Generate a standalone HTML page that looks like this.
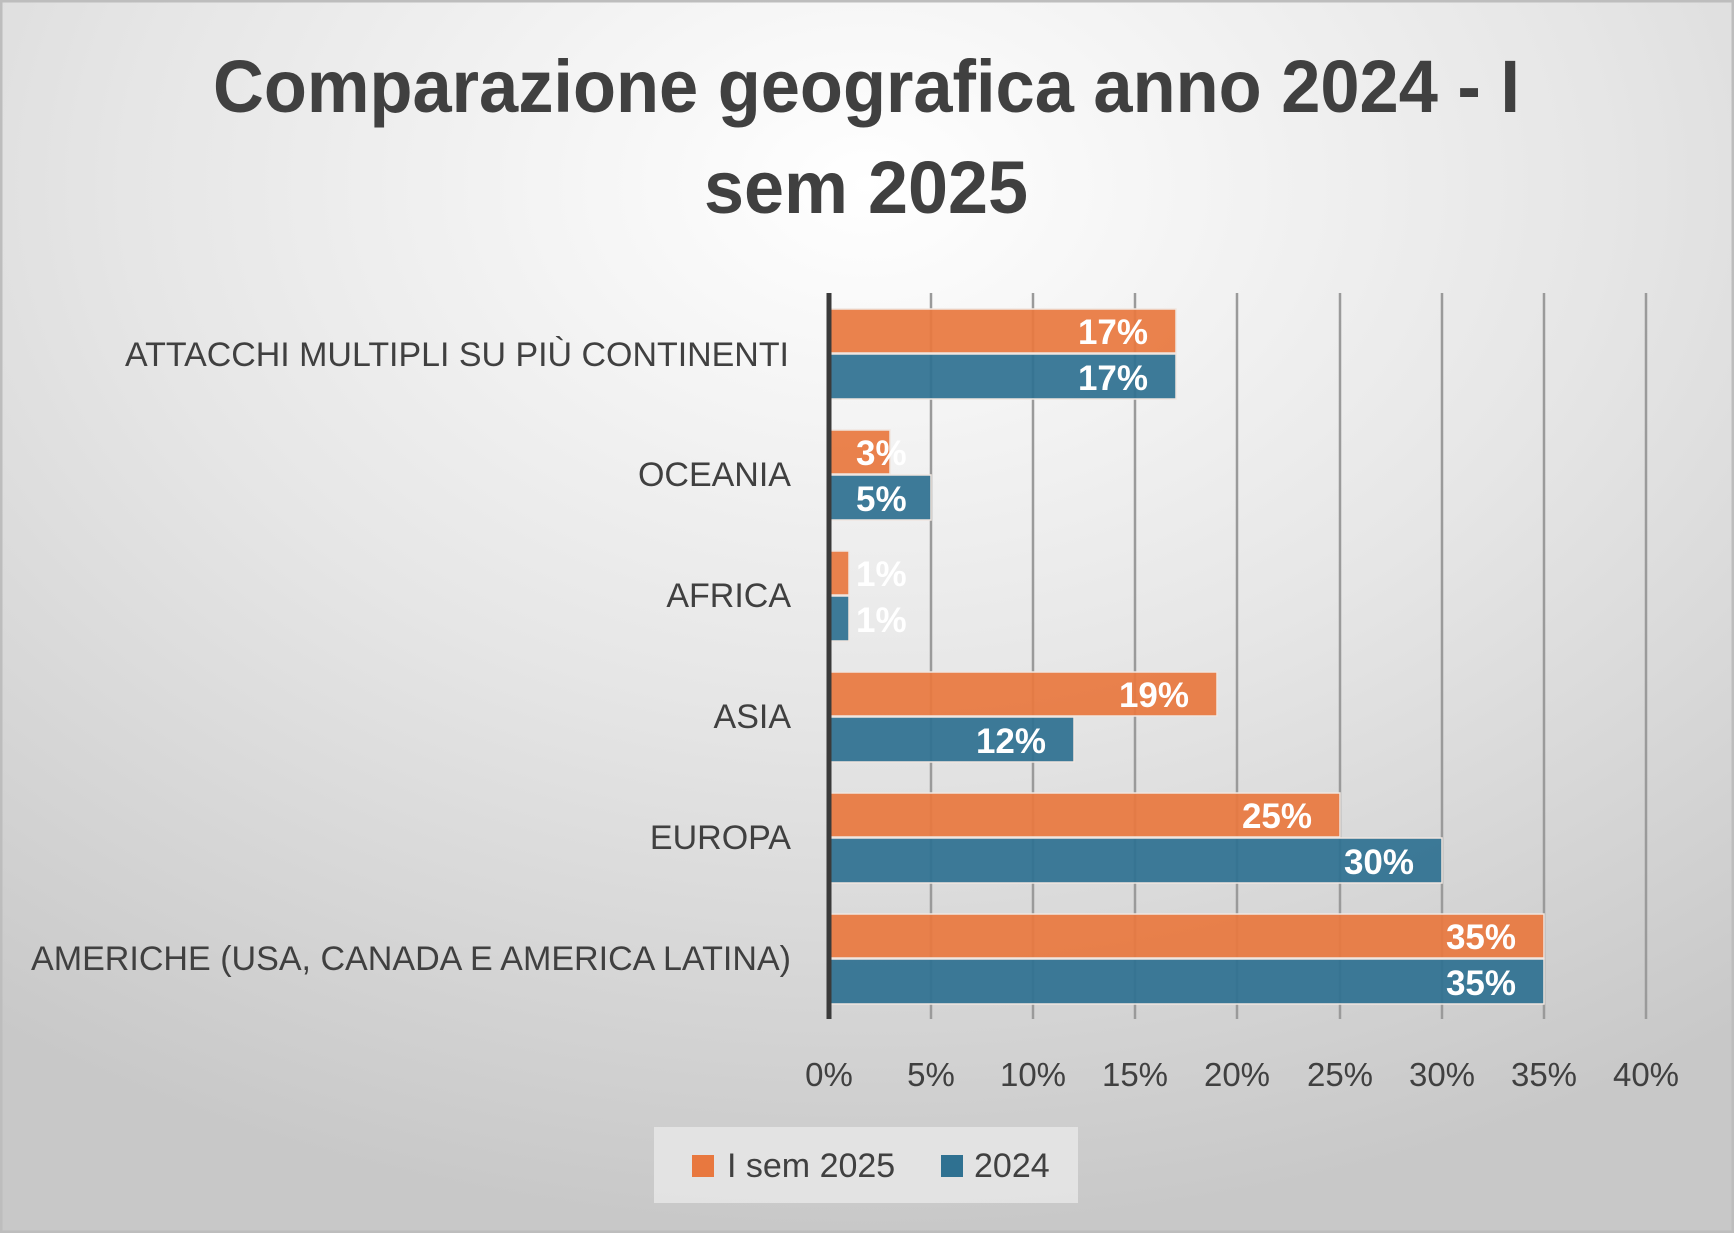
<!DOCTYPE html>
<html><head><meta charset="utf-8"><style>
html,body{margin:0;padding:0;}
body{width:1734px;height:1233px;overflow:hidden;}
svg{display:block;}
text{font-family:"Liberation Sans",sans-serif;}
</style></head><body>
<svg width="1734" height="1233" viewBox="0 0 1734 1233" xmlns="http://www.w3.org/2000/svg">
<defs>
<radialGradient id="bg" cx="50%" cy="15%" r="85%" fx="50%" fy="15%">
<stop offset="0" stop-color="#ffffff"/>
<stop offset="0.5" stop-color="#e6e6e6"/>
<stop offset="1" stop-color="#c8c8c8"/>
</radialGradient>
</defs>
<rect x="0" y="0" width="1734" height="1233" fill="url(#bg)"/>
<rect x="1" y="1" width="1732" height="1231" fill="none" stroke="#bdbdbd" stroke-width="3"/>
<g fill="#404040" font-weight="bold" font-size="74">
<text x="213" y="112" textLength="1307" lengthAdjust="spacingAndGlyphs">Comparazione geografica anno 2024 - I</text>
<text x="704" y="213" textLength="324" lengthAdjust="spacingAndGlyphs">sem 2025</text>
</g>
<g stroke="#9a9a9a" stroke-width="2.5">
<line x1="931" y1="293" x2="931" y2="1019"/>
<line x1="1033" y1="293" x2="1033" y2="1019"/>
<line x1="1135" y1="293" x2="1135" y2="1019"/>
<line x1="1237" y1="293" x2="1237" y2="1019"/>
<line x1="1340" y1="293" x2="1340" y2="1019"/>
<line x1="1442" y1="293" x2="1442" y2="1019"/>
<line x1="1544" y1="293" x2="1544" y2="1019"/>
<line x1="1646" y1="293" x2="1646" y2="1019"/>
</g>
<g stroke="#f0e6e0" stroke-width="1.5" fill-opacity="0.93">
<rect x="829" y="309" width="347" height="44" fill="#E8783F"/>
<rect x="829" y="354" width="347" height="45" fill="#2F7191"/>
<rect x="829" y="430" width="61" height="44" fill="#E8783F"/>
<rect x="829" y="475" width="102" height="45" fill="#2F7191"/>
<rect x="829" y="551" width="20" height="44" fill="#E8783F"/>
<rect x="829" y="596" width="20" height="45" fill="#2F7191"/>
<rect x="829" y="672" width="388" height="44" fill="#E8783F"/>
<rect x="829" y="717" width="245" height="45" fill="#2F7191"/>
<rect x="829" y="793" width="511" height="44" fill="#E8783F"/>
<rect x="829" y="838" width="613" height="45" fill="#2F7191"/>
<rect x="829" y="914" width="715" height="44" fill="#E8783F"/>
<rect x="829" y="959" width="715" height="45" fill="#2F7191"/>
</g>
<line x1="829" y1="293" x2="829" y2="1019" stroke="#3a3a3a" stroke-width="5"/>
<g fill="#ffffff" font-weight="bold" font-size="35">
<text x="1148" y="344" text-anchor="end">17%</text>
<text x="1148" y="390" text-anchor="end">17%</text>
<text x="856" y="465">3%</text>
<text x="856" y="511">5%</text>
<text x="856" y="586">1%</text>
<text x="856" y="632">1%</text>
<text x="1189" y="707" text-anchor="end">19%</text>
<text x="1046" y="753" text-anchor="end">12%</text>
<text x="1312" y="828" text-anchor="end">25%</text>
<text x="1414" y="874" text-anchor="end">30%</text>
<text x="1516" y="949" text-anchor="end">35%</text>
<text x="1516" y="995" text-anchor="end">35%</text>
</g>
<g fill="#404040" font-size="34">
<text x="125" y="366" textLength="664" lengthAdjust="spacingAndGlyphs">ATTACCHI MULTIPLI SU PIÙ CONTINENTI</text>
<text x="791" y="486" text-anchor="end">OCEANIA</text>
<text x="791" y="607" text-anchor="end">AFRICA</text>
<text x="791" y="728" text-anchor="end">ASIA</text>
<text x="791" y="849" text-anchor="end">EUROPA</text>
<text x="31" y="970" textLength="760" lengthAdjust="spacingAndGlyphs">AMERICHE (USA, CANADA E AMERICA LATINA)</text>
</g>
<g fill="#404040" font-size="33" text-anchor="middle">
<text x="829" y="1086">0%</text>
<text x="931" y="1086">5%</text>
<text x="1033" y="1086">10%</text>
<text x="1135" y="1086">15%</text>
<text x="1237" y="1086">20%</text>
<text x="1340" y="1086">25%</text>
<text x="1442" y="1086">30%</text>
<text x="1544" y="1086">35%</text>
<text x="1646" y="1086">40%</text>
</g>
<rect x="654" y="1127" width="424" height="76" fill="#e8e8e8" fill-opacity="0.8"/>
<rect x="692" y="1155" width="22" height="22" fill="#E8783F"/>
<rect x="941" y="1155" width="22" height="22" fill="#2F7191"/>
<g fill="#404040" font-size="34">
<text x="727" y="1177">I sem 2025</text>
<text x="974" y="1177">2024</text>
</g>
</svg>
</body></html>
